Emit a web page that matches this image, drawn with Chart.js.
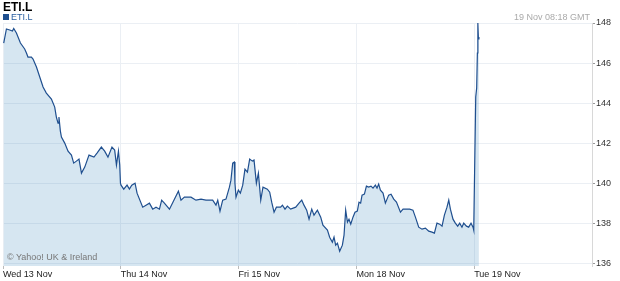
<!DOCTYPE html>
<html>
<head>
<meta charset="utf-8">
<script src="https://cdn.jsdelivr.net/npm/chart.js@4"></script>
<style>
  html, body { margin: 0; padding: 0; background: #fff; }
  #wrap { position: relative; width: 620px; height: 281px; font-family: "Liberation Sans", Arial, sans-serif; }
  #chart { position: absolute; left: 0; top: 0; }
  .title { position: absolute; left: 3px; top: 1px; font-size: 12px; line-height: 12px; font-weight: bold; color: #000; }
  .legend { position: absolute; left: 3px; top: 12px; font-size: 9px; color: #2a5ea0; line-height: 10px; }
  .legend span { display: inline-block; width: 6px; height: 6px; background: #1f4f8f; margin-right: 2px; vertical-align: 0px; }
  .stamp { position: absolute; right: 30px; top: 12px; font-size: 9px; color: #aaa; line-height: 10px; }
  .copy { position: absolute; left: 7px; top: 252px; font-size: 9px; color: #777; line-height: 10px; }
</style>
</head>
<body>
<div id="wrap">
  <canvas id="chart" width="620" height="281"></canvas>
  <div class="title">ETI.L</div>
  <div class="legend"><span></span>ETI.L</div>
  <div class="stamp">19 Nov 08:18 GMT</div>
  <div class="copy">© Yahoo! UK &amp; Ireland</div>
</div>
<script>
// trading days since Wed 13 Nov open (1 = one full session)
const dayLabels = ['Wed 13 Nov', 'Thu 14 Nov', 'Fri 15 Nov', 'Mon 18 Nov', 'Tue 19 Nov'];
const priceTicks = [136, 138, 140, 142, 144, 146, 148];

const wedTimes = [0.006, 0.029, 0.057, 0.080, 0.091, 0.114, 0.148, 0.184, 0.199, 0.212, 0.241, 0.255, 0.284, 0.312, 0.340, 0.368, 0.411, 0.439, 0.453, 0.467, 0.475, 0.487, 0.496, 0.524, 0.552, 0.581, 0.600, 0.623, 0.645, 0.666, 0.694, 0.730, 0.772, 0.798, 0.835, 0.863, 0.891, 0.925, 0.948, 0.963, 0.980, 0.991, 0.997];
const wedPrices = [147.0, 147.7, 147.65, 147.6, 147.73, 147.5, 147.0, 146.7, 146.5, 146.3, 146.3, 146.2, 145.8, 145.3, 144.8, 144.5, 144.2, 143.8, 143.3, 143.0, 143.3, 142.6, 142.3, 142.0, 141.6, 141.4, 141.0, 141.1, 141.2, 140.5, 140.8, 141.4, 141.3, 141.5, 141.8, 141.6, 141.3, 141.8, 141.65, 140.9, 141.6, 140.9, 140.0];

const thuTimes = [1.002, 1.025, 1.053, 1.073, 1.093, 1.121, 1.138, 1.186, 1.214, 1.243, 1.271, 1.299, 1.328, 1.347, 1.370, 1.413, 1.455, 1.489, 1.511, 1.540, 1.596, 1.638, 1.681, 1.723, 1.780, 1.808, 1.823, 1.842, 1.865, 1.893, 1.922, 1.935, 1.950, 1.964, 1.969, 1.978, 1.998];
const thuPrices = [139.9, 139.7, 139.9, 139.7, 139.9, 140.0, 139.5, 138.8, 138.9, 139.0, 138.7, 138.8, 138.7, 139.15, 139.0, 138.7, 139.2, 139.6, 139.15, 139.3, 139.3, 139.15, 139.2, 139.15, 139.15, 138.9, 139.15, 138.6, 139.15, 139.2, 139.8, 140.15, 141.0, 141.05, 140.0, 139.3, 139.65];

const friTimes = [2.015, 2.035, 2.054, 2.075, 2.094, 2.117, 2.131, 2.151, 2.168, 2.188, 2.207, 2.244, 2.264, 2.281, 2.301, 2.321, 2.357, 2.372, 2.394, 2.414, 2.442, 2.485, 2.513, 2.536, 2.555, 2.578, 2.598, 2.621, 2.640, 2.669, 2.697, 2.716, 2.754, 2.773, 2.796, 2.810, 2.824, 2.839, 2.858, 2.881, 2.895, 2.909, 2.924, 2.937, 2.952, 2.971, 2.988];
const friPrices = [139.5, 139.9, 140.7, 140.55, 141.2, 141.1, 141.15, 140.0, 140.5, 139.15, 139.8, 139.7, 139.55, 139.05, 138.55, 138.8, 138.8, 138.9, 138.7, 138.85, 138.7, 138.8, 139.0, 139.15, 138.9, 138.65, 138.2, 138.7, 138.4, 138.65, 138.3, 137.9, 137.65, 137.3, 137.05, 137.3, 136.9, 137.0, 136.6, 136.9, 137.4, 138.65, 138.05, 138.2, 137.95, 138.3, 138.55];

const monTimes = [3.008, 3.022, 3.036, 3.048, 3.068, 3.085, 3.104, 3.124, 3.141, 3.161, 3.175, 3.189, 3.204, 3.226, 3.246, 3.274, 3.294, 3.317, 3.340, 3.374, 3.396, 3.424, 3.452, 3.480, 3.501, 3.529, 3.557, 3.586, 3.614, 3.642, 3.662, 3.684, 3.707, 3.727, 3.747, 3.769, 3.784, 3.798, 3.820, 3.840, 3.860, 3.877, 3.896, 3.911, 3.934, 3.953, 3.973, 3.990, 3.996];
const monPrices = [138.6, 139.05, 139.0, 139.4, 139.45, 139.85, 139.8, 139.85, 139.75, 139.9, 139.75, 139.95, 139.65, 139.5, 139.0, 139.4, 139.45, 139.2, 139.05, 138.55, 138.7, 138.7, 138.7, 138.65, 138.3, 137.8, 137.7, 137.75, 137.6, 137.55, 137.5, 138.0, 137.95, 137.85, 138.4, 138.8, 139.15, 138.7, 138.2, 138.0, 137.85, 138.0, 137.8, 138.0, 137.85, 137.8, 138.0, 137.8, 137.65];

const tueTimes = [4.004, 4.013, 4.021, 4.027, 4.030, 4.032, 4.036, 4.040];
const tuePrices = [140.8, 144.3, 144.75, 146.5, 147.8, 148.0, 147.2, 147.3];

const times = [].concat(wedTimes, thuTimes, friTimes, monTimes, tueTimes);
const prices = [].concat(wedPrices, thuPrices, friPrices, monPrices, tuePrices);

const points = times.map((t, i) => ({ x: t, y: prices[i] }));

const gridColor = 'rgb(235,239,244)';
const tickFont = { family: '"Liberation Sans", Arial, sans-serif', size: 9 };

const ctx = document.getElementById('chart').getContext('2d');
new Chart(ctx, {
    type: 'line',
    data: {
        datasets: [{
            label: 'ETI.L',
            data: points,
            borderColor: '#1f4f8f',
            borderWidth: 1.2,
            backgroundColor: 'rgba(50,130,185,0.2)',
            fill: 'start',
            pointRadius: 0,
            tension: 0
        }]
    },
    options: {
        responsive: false,
        animation: false,
        layout: { padding: { top: 23, left: 3, right: 0, bottom: 0 } },
        plugins: {
            legend: { display: false },
            title: { display: false },
            tooltip: { enabled: false }
        },
        scales: {
            x: {
                type: 'linear',
                min: 0,
                max: 5,
                afterBuildTicks: (scale) => {
                    scale.ticks = dayLabels.map((_, i) => ({ value: i }));
                },
                afterFit: (scale) => { scale.height = 15; },
                ticks: {
                    callback: (v) => dayLabels[v],
                    autoSkip: false,
                    maxRotation: 0,
                    align: 'start',
                    padding: 0,
                    color: '#222',
                    font: tickFont
                },
                grid: {
                    color: gridColor,
                    tickLength: 3,
                    tickColor: '#bbb'
                },
                border: { display: false }
            },
            y: {
                position: 'right',
                min: 135.86,
                max: 148,
                afterBuildTicks: (scale) => {
                    scale.ticks = priceTicks.map(v => ({ value: v }));
                },
                afterFit: (scale) => { scale.width = 28; },
                ticks: {
                    padding: 1,
                    color: '#333',
                    font: tickFont
                },
                grid: {
                    color: gridColor,
                    tickLength: 3,
                    tickColor: '#999'
                },
                border: { display: true, color: '#d8d8d8' }
            }
        }
    }
});
</script>
</body>
</html>
